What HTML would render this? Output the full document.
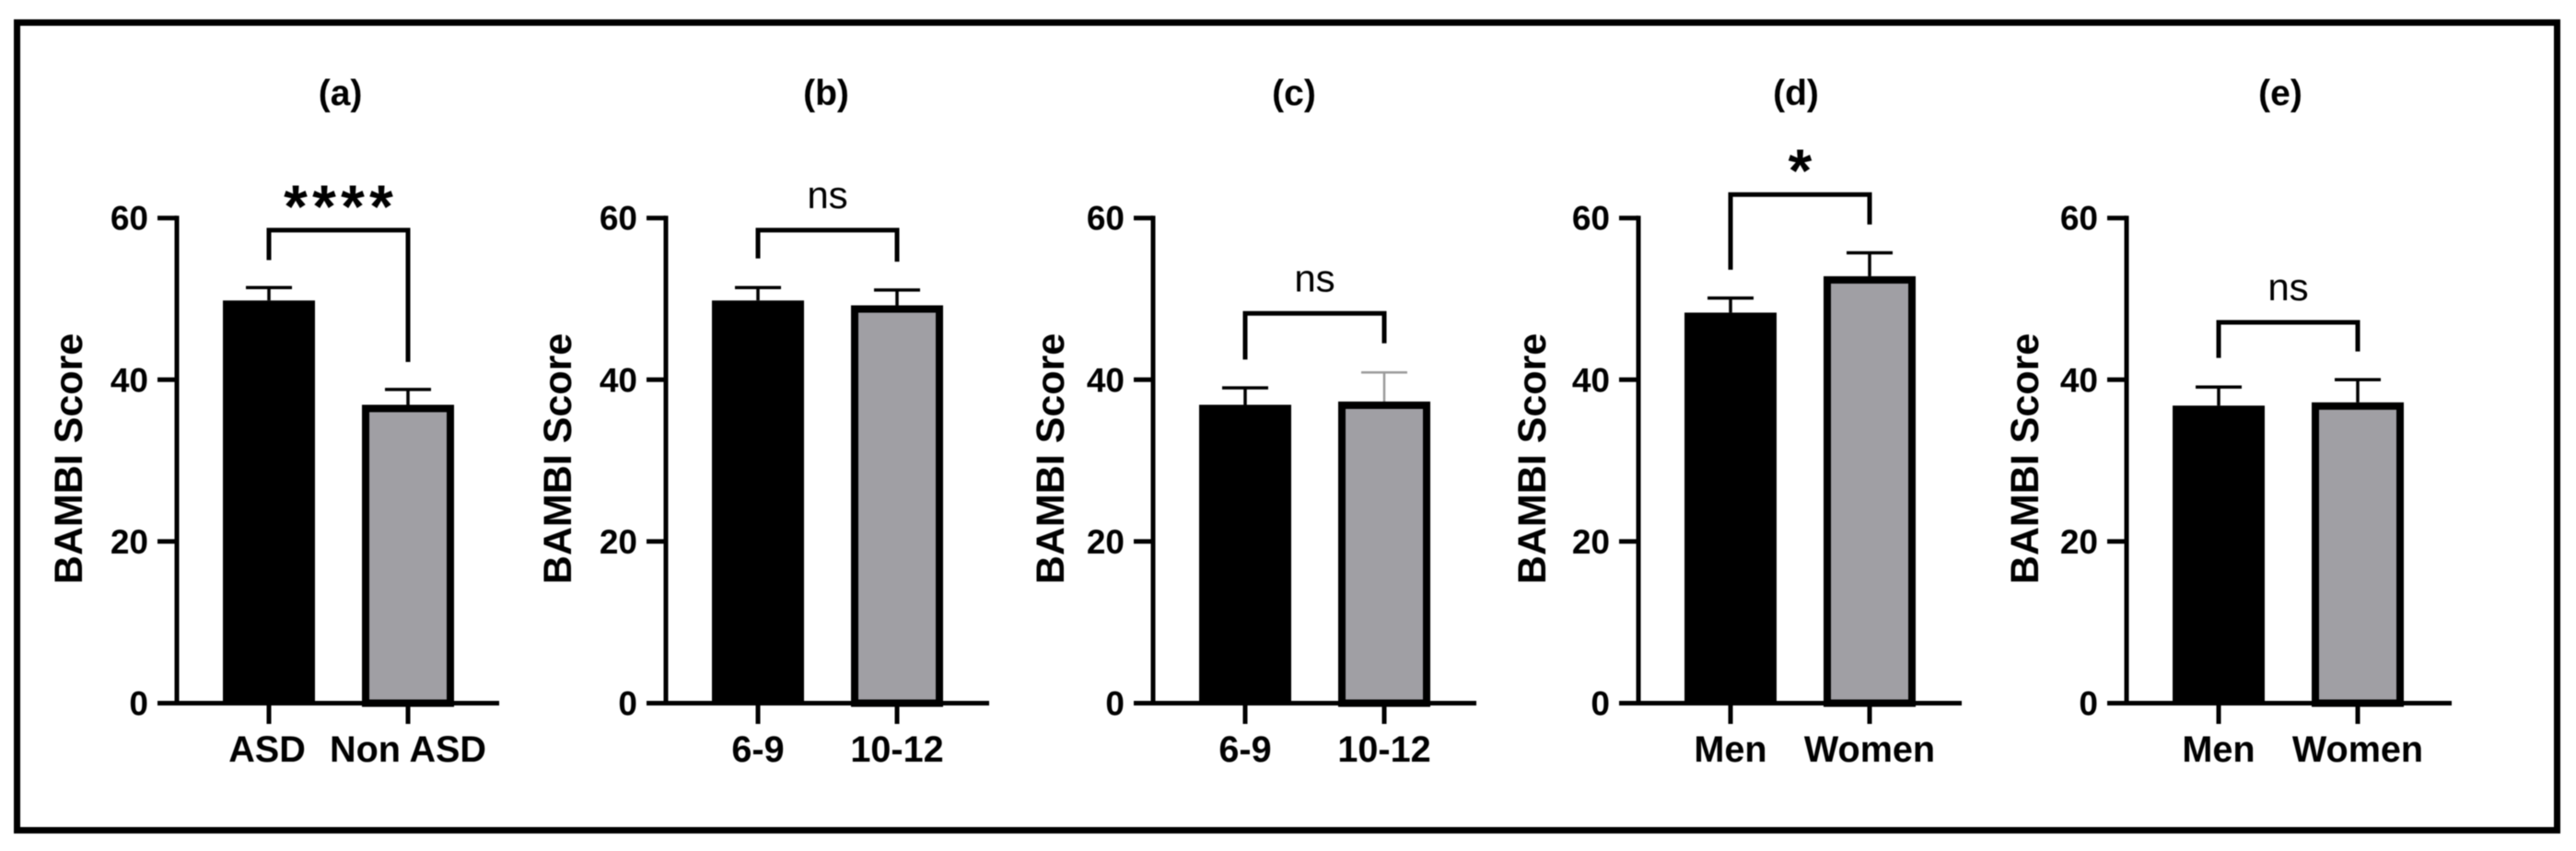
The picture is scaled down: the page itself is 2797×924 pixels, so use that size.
<!DOCTYPE html>
<html lang="en">
<head>
<meta charset="utf-8">
<title>BAMBI Score by group</title>
<style>
html,body{margin:0;padding:0;background:#fff;}
body{width:2797px;height:924px;overflow:hidden;}
svg{display:block;filter:blur(0.6px);}
text{font-family:"Liberation Sans",Arial,sans-serif;fill:#000;}
.b{font-weight:700;}
</style>
</head>
<body>
<svg id="figure" xmlns="http://www.w3.org/2000/svg" width="2797" height="924" viewBox="0 0 2797 924">
<rect x="0" y="0" width="2797" height="924" fill="#fff"/>
<rect x="18.5" y="24.5" width="2758" height="877" fill="none" stroke="#000" stroke-width="7"/>
</svg>
<script>
// Chart data
var panelTitles = ['(a)', '(b)', '(c)', '(d)', '(e)'];
var categories = [
  ['ASD', 'Non ASD'],
  ['6-9', '10-12'],
  ['6-9', '10-12'],
  ['Men', 'Women'],
  ['Men', 'Women']
];
var meanValues = [
  [49.8, 36.9],
  [49.8, 49.2],
  [36.9, 37.3],
  [48.3, 52.8],
  [36.8, 37.2]
];
var upperErrorValues = [
  [51.4, 38.8],
  [51.4, 51.1],
  [39.0, 40.9],
  [50.1, 55.7],
  [39.1, 40.0]
];
var significanceLabels = ['****', 'ns', 'ns', '*', 'ns'];
var bracketTopValues = [58.5, 58.5, 48.2, 62.9, 47.1];
var bracketLeftEndValues = [54.8, 55.0, 42.5, 53.6, 42.7];
var bracketRightEndValues = [42.2, 54.6, 44.5, 59.2, 43.5];
var yTickValues = [0, 20, 40, 60];
var yAxisTitle = 'BAMBI Score';

// Layout (not data)
var axisOrigins = [192, 723, 1252, 1779, 2309];
var axisLengths = [350, 351, 351, 351, 353];
var titleCentres = [369.6, 897, 1405, 1950, 2476];
var yTitleOffsets = [103, 103, 97, 101, 96];
var GREY = '#a09fa4';
var Y_ZERO = 763.5;
var PX_PER_UNIT = 8.78;

function yScale(v) { return Y_ZERO - v * PX_PER_UNIT; }
function xBand(panel, i) { return axisOrigins[panel] + 100 + 151 * i; }

var svg = document.getElementById('figure');
var NS = 'http://www.w3.org/2000/svg';
function make(parent, tag, attrs, txt) {
  var el = document.createElementNS(NS, tag);
  for (var k in attrs) el.setAttribute(k, attrs[k]);
  if (txt !== undefined) el.textContent = txt;
  parent.appendChild(el);
  return el;
}
function line(parent, x1, y1, x2, y2, w, color) {
  return make(parent, 'line', {x1: x1, y1: y1, x2: x2, y2: y2, stroke: color || '#000', 'stroke-width': w});
}

panelTitles.forEach(function (title, p) {
  var ax = axisOrigins[p];
  var g = make(svg, 'g', {});
  
  

  var t = make(g, 'text', {x: titleCentres[p], y: 114, 'text-anchor': 'middle', 'font-size': 39, 'class': 'b'}, title);
  
  

  var yt = make(g, 'text', {transform: 'translate(' + (ax - yTitleOffsets[p]) + ',498) rotate(-90)', 'text-anchor': 'middle', 'font-size': 43, 'class': 'b'}, yAxisTitle);
  
  

  // bars
  categories[p].forEach(function (cat, i) {
    var cx = xBand(p, i);
    var top = yScale(meanValues[p][i]);
    var errTop = yScale(upperErrorValues[p][i]);
    var thin = (p === 2 && i === 1);
    var errColor = thin ? '#9a9a9a' : '#000';
    var errW = thin ? 2.5 : 3.5;

    var stem = line(g, cx, errTop, cx, top, errW, errColor);
    
    
    var cap = line(g, cx - 25, errTop, cx + 25, errTop, errW, errColor);
    
    

    var bar;
    if (i === 0) {
      bar = make(g, 'rect', {x: cx - 50, y: top, width: 100, height: Y_ZERO - top, fill: '#000'});
    } else {
      bar = make(g, 'rect', {x: cx - 46, y: top + 4, width: 92, height: Y_ZERO - top - 4, fill: GREY, stroke: '#000', 'stroke-width': 8});
    }
    
    

    var xt = line(g, cx, Y_ZERO, cx, 786, 5);
    
    

    var xl = make(g, 'text', {x: cx - (p === 0 && i === 0 ? 2 : 0), y: 827, 'text-anchor': 'middle', 'font-size': 39.6, 'class': 'b'}, cat);
    
    
  });

  // axes
  var yAxis = line(g, ax, yScale(60) - 2.5, ax, Y_ZERO + 2.5, 5);
  
  
  var xAxis = line(g, ax - 21, Y_ZERO, ax + axisLengths[p], Y_ZERO, 5);
  
  

  yTickValues.forEach(function (v) {
    var y = yScale(v);
    var tk = line(g, ax - 21, y, ax, y, 5);
    
    
    var lb = make(g, 'text', {x: ax - 31, y: y + 13, 'text-anchor': 'end', 'font-size': 37, 'class': 'b'}, String(v));
    
    
  });

  // significance bracket
  var xL = xBand(p, 0);
  var xR = xBand(p, 1);
  var yTop = yScale(bracketTopValues[p]);
  var br = make(g, 'polyline', {
    points: xL + ',' + yScale(bracketLeftEndValues[p]) + ' ' + xL + ',' + yTop + ' ' + xR + ',' + yTop + ' ' + xR + ',' + yScale(bracketRightEndValues[p]),
    fill: 'none', stroke: '#000', 'stroke-width': 5
  });
  
  

  var sig = significanceLabels[p];
  var isStar = sig.charAt(0) === '*';
  var sl = make(g, 'text', {
    x: (xL + xR) / 2 + (isStar ? 2.6 : 0), y: isStar ? yTop - 3 : yTop - 24, 'text-anchor': 'middle',
    'font-size': isStar ? 66 : 42, 'letter-spacing': isStar ? 5.3 : 0, 'class': isStar ? 'b' : ''
  }, sig);
  
  
});
</script>
</body>
</html>
